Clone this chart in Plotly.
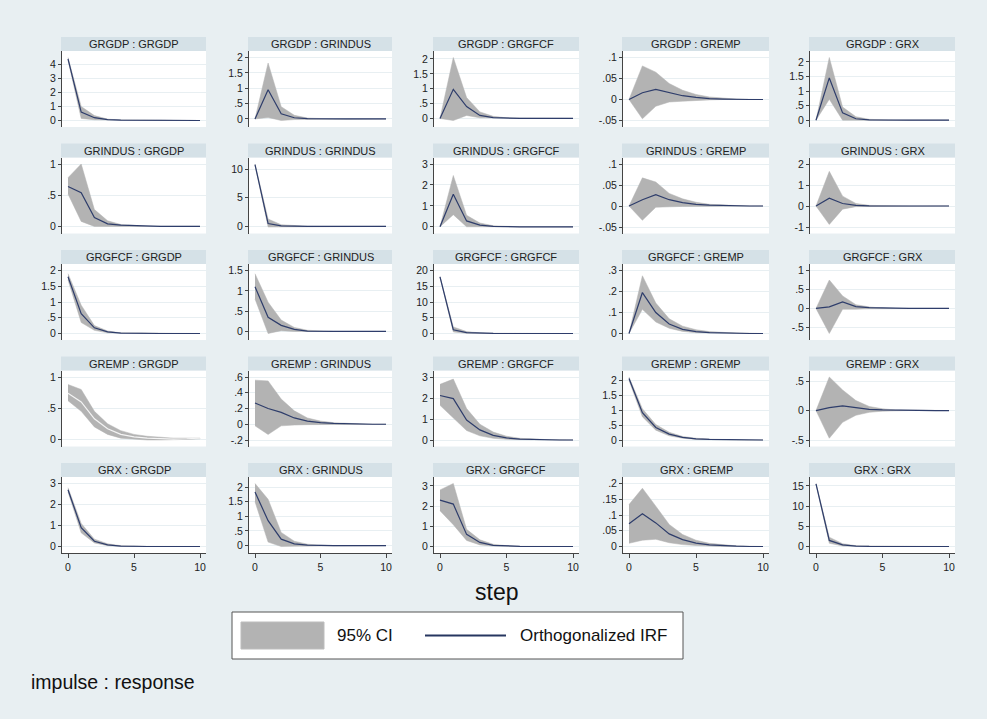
import plotly.graph_objects as go

# ---------------------------------------------------------------- data
steps = [0, 1, 2, 3, 4, 5, 6, 7, 8, 9, 10]
variables = ["GRGDP", "GRINDUS", "GRGFCF", "GREMP", "GRX"]
x_ticks = [0, 5, 10]

# impulse GRGDP
irf_gdp_gdp = [4.4, 0.6, 0.2, 0.06, 0.02, 0.01, 0, 0, 0, 0, 0]
lo_gdp_gdp = [4.3, 0.15, 0.05, 0.01, 0, 0, 0, 0, 0, 0, 0]
hi_gdp_gdp = [4.5, 1.0, 0.35, 0.1, 0.03, 0.01, 0, 0, 0, 0, 0]
irf_gdp_ind = [0, 0.95, 0.17, 0.04, 0.01, 0, 0, 0, 0, 0, 0]
lo_gdp_ind = [0, 0.05, -0.05, -0.02, 0, 0, 0, 0, 0, 0, 0]
hi_gdp_ind = [0, 1.82, 0.4, 0.12, 0.03, 0.01, 0, 0, 0, 0, 0]
irf_gdp_gfcf = [0, 0.98, 0.4, 0.1, 0.03, 0.01, 0, 0, 0, 0, 0]
lo_gdp_gfcf = [0, -0.07, 0.1, 0.02, 0, 0, 0, 0, 0, 0, 0]
hi_gdp_gfcf = [0, 2.05, 0.7, 0.22, 0.07, 0.02, 0, 0, 0, 0, 0]
irf_gdp_emp = [0, 0.016, 0.024, 0.016, 0.009, 0.005, 0.002, 0.001, 0, 0, 0]
lo_gdp_emp = [0, -0.046, -0.016, -0.006, -0.004, -0.002, -0.001, 0, 0, 0, 0]
hi_gdp_emp = [0, 0.08, 0.065, 0.038, 0.022, 0.012, 0.006, 0.003, 0.001, 0.0005, 0]
irf_gdp_x = [0, 1.45, 0.25, 0.05, 0.01, 0, 0, 0, 0, 0, 0]
lo_gdp_x = [0, 0.72, 0.0, -0.01, 0, 0, 0, 0, 0, 0, 0]
hi_gdp_x = [0, 2.15, 0.45, 0.12, 0.03, 0.01, 0, 0, 0, 0, 0]

# impulse GRINDUS
irf_ind_gdp = [0.64, 0.54, 0.14, 0.04, 0.02, 0.01, 0, 0, 0, 0, 0]
lo_ind_gdp = [0.52, 0.08, 0.0, -0.01, 0, 0, 0, 0, 0, 0, 0]
hi_ind_gdp = [0.78, 1.0, 0.27, 0.09, 0.03, 0.01, 0, 0, 0, 0, 0]
irf_ind_ind = [10.8, 0.5, 0.1, 0.02, 0, 0, 0, 0, 0, 0, 0]
lo_ind_ind = [10.7, -0.1, 0, 0, 0, 0, 0, 0, 0, 0, 0]
hi_ind_ind = [10.9, 1.3, 0.3, 0.1, 0.02, 0, 0, 0, 0, 0, 0]
irf_ind_gfcf = [0, 1.55, 0.28, 0.08, 0.02, 0, 0, 0, 0, 0, 0]
lo_ind_gfcf = [0, 0.58, 0.0, -0.01, 0, 0, 0, 0, 0, 0, 0]
hi_ind_gfcf = [0, 2.45, 0.55, 0.18, 0.05, 0.01, 0, 0, 0, 0, 0]
irf_ind_emp = [0, 0.015, 0.027, 0.015, 0.008, 0.004, 0.002, 0.001, 0, 0, 0]
lo_ind_emp = [0, -0.034, -0.003, -0.002, -0.001, 0, 0, 0, 0, 0, 0]
hi_ind_emp = [0, 0.067, 0.057, 0.03, 0.017, 0.009, 0.004, 0.002, 0.001, 0, 0]
irf_ind_x = [0, 0.37, 0.12, 0.03, 0.01, 0, 0, 0, 0, 0, 0]
lo_ind_x = [0, -0.88, -0.15, -0.03, -0.01, 0, 0, 0, 0, 0, 0]
hi_ind_x = [0, 1.65, 0.47, 0.12, 0.03, 0.01, 0, 0, 0, 0, 0]

# impulse GRGFCF
irf_gfcf_gdp = [1.8, 0.63, 0.18, 0.05, 0.01, 0, 0, 0, 0, 0, 0]
lo_gfcf_gdp = [1.7, 0.35, 0.1, 0.02, 0, 0, 0, 0, 0, 0, 0]
hi_gfcf_gdp = [1.9, 0.9, 0.25, 0.08, 0.02, 0.01, 0, 0, 0, 0, 0]
irf_gfcf_ind = [1.1, 0.35, 0.15, 0.05, 0.01, 0, 0, 0, 0, 0, 0]
lo_gfcf_ind = [0.8, -0.05, 0.02, 0.0, 0, 0, 0, 0, 0, 0, 0]
hi_gfcf_ind = [1.42, 0.72, 0.28, 0.1, 0.03, 0.01, 0, 0, 0, 0, 0]
irf_gfcf_gfcf = [18.0, 1.2, 0.3, 0.1, 0.03, 0, 0, 0, 0, 0, 0]
lo_gfcf_gfcf = [17.9, 0.5, 0.05, 0, 0, 0, 0, 0, 0, 0, 0]
hi_gfcf_gfcf = [18.1, 2.1, 0.6, 0.2, 0.05, 0, 0, 0, 0, 0, 0]
irf_gfcf_emp = [0, 0.195, 0.1, 0.045, 0.02, 0.009, 0.004, 0.002, 0.001, 0, 0]
lo_gfcf_emp = [0, 0.115, 0.055, 0.025, 0.01, 0.004, 0.002, 0.001, 0, 0, 0]
hi_gfcf_emp = [0, 0.275, 0.145, 0.07, 0.035, 0.018, 0.009, 0.004, 0.002, 0.001, 0.0005]
irf_gfcf_x = [0, 0.04, 0.17, 0.05, 0.02, 0.01, 0, 0, 0, 0, 0]
lo_gfcf_x = [0, -0.66, -0.02, -0.02, -0.01, 0, 0, 0, 0, 0, 0]
hi_gfcf_x = [0, 0.75, 0.33, 0.1, 0.04, 0.01, 0, 0, 0, 0, 0]

# impulse GREMP
irf_emp_gdp = [0.74, 0.6, 0.33, 0.17, 0.08, 0.04, 0.02, 0.01, 0.005, 0.01, 0.02]
lo_emp_gdp = [0.62, 0.45, 0.2, 0.08, 0.02, 0.0, -0.01, -0.01, -0.01, 0, 0.01]
hi_emp_gdp = [0.88, 0.8, 0.45, 0.25, 0.14, 0.08, 0.05, 0.03, 0.02, 0.02, 0.02]
irf_emp_ind = [0.27, 0.2, 0.15, 0.08, 0.04, 0.02, 0.01, 0.005, 0, 0, 0]
lo_emp_ind = [-0.02, -0.13, -0.02, -0.01, -0.005, 0, 0, 0, 0, 0, 0]
hi_emp_ind = [0.56, 0.55, 0.32, 0.17, 0.08, 0.04, 0.02, 0.01, 0.005, 0, 0]
irf_emp_gfcf = [2.12, 1.97, 0.95, 0.48, 0.22, 0.1, 0.04, 0.02, 0.01, 0, 0]
lo_emp_gfcf = [1.65, 1.05, 0.45, 0.2, 0.08, 0.03, 0.01, 0, 0, 0, 0]
hi_emp_gfcf = [2.65, 2.9, 1.5, 0.75, 0.38, 0.18, 0.08, 0.04, 0.02, 0.01, 0]
irf_emp_emp = [2.07, 0.92, 0.42, 0.2, 0.09, 0.04, 0.02, 0.01, 0, 0, 0]
lo_emp_emp = [2.0, 0.78, 0.33, 0.14, 0.06, 0.02, 0.01, 0, 0, 0, 0]
hi_emp_emp = [2.12, 1.05, 0.52, 0.26, 0.12, 0.06, 0.03, 0.015, 0.005, 0, 0]
irf_emp_x = [0, 0.05, 0.08, 0.05, 0.02, 0.01, 0.005, 0, 0, 0, 0]
lo_emp_x = [0, -0.47, -0.2, -0.08, -0.03, -0.01, 0, 0, 0, 0, 0]
hi_emp_x = [0, 0.57, 0.35, 0.17, 0.07, 0.03, 0.01, 0.005, 0, 0, 0]

# impulse GRX
irf_x_gdp = [2.7, 0.9, 0.25, 0.08, 0.02, 0, 0, 0, 0, 0, 0]
lo_x_gdp = [2.6, 0.65, 0.17, 0.04, 0.01, 0, 0, 0, 0, 0, 0]
hi_x_gdp = [2.8, 1.1, 0.35, 0.13, 0.04, 0.01, 0, 0, 0, 0, 0]
irf_x_ind = [1.83, 0.85, 0.22, 0.06, 0.02, 0, 0, 0, 0, 0, 0]
lo_x_ind = [1.5, 0.12, -0.03, -0.02, -0.005, 0, 0, 0, 0, 0, 0]
hi_x_ind = [2.12, 1.58, 0.45, 0.15, 0.05, 0.01, 0, 0, 0, 0, 0]
irf_x_gfcf = [2.3, 2.1, 0.6, 0.2, 0.06, 0.02, 0.01, 0, 0, 0, 0]
lo_x_gfcf = [1.77, 1.08, 0.3, 0.08, 0.02, 0, 0, 0, 0, 0, 0]
hi_x_gfcf = [2.8, 3.12, 0.85, 0.33, 0.11, 0.04, 0.01, 0, 0, 0, 0]
irf_x_emp = [0.072, 0.104, 0.075, 0.04, 0.022, 0.011, 0.005, 0.002, 0.001, 0, 0]
lo_x_emp = [0.01, 0.02, 0.023, 0.012, 0.006, 0.003, 0.001, 0, 0, 0, 0]
hi_x_emp = [0.133, 0.185, 0.128, 0.07, 0.038, 0.02, 0.01, 0.005, 0.002, 0.001, 0]
irf_x_x = [15.5, 1.5, 0.4, 0.1, 0.02, 0, 0, 0, 0, 0, 0]
lo_x_x = [15.4, 0.8, 0.15, 0.02, 0, 0, 0, 0, 0, 0, 0]
hi_x_x = [15.6, 2.3, 0.7, 0.2, 0.05, 0, 0, 0, 0, 0, 0]

# y tick values per panel (row = impulse, column = response)
yticks_rows = [
    [[0, 1, 2, 3, 4], [0, .5, 1, 1.5, 2], [0, .5, 1, 1.5, 2], [-.05, 0, .05, .1], [0, .5, 1, 1.5, 2]],
    [[0, .5, 1], [0, 5, 10], [0, 1, 2, 3], [-.05, 0, .05, .1], [-1, 0, 1, 2]],
    [[0, .5, 1, 1.5, 2], [0, .5, 1, 1.5], [0, 5, 10, 15, 20], [0, .1, .2, .3], [-.5, 0, .5, 1]],
    [[0, .5, 1], [-.2, 0, .2, .4, .6], [0, 1, 2, 3], [0, .5, 1, 1.5, 2], [-.5, 0, .5]],
    [[0, 1, 2, 3], [0, .5, 1, 1.5, 2], [0, 1, 2, 3], [0, .05, .1, .15, .2], [0, 5, 10, 15]],
]

panel_rows = [
    [(irf_gdp_gdp, lo_gdp_gdp, hi_gdp_gdp), (irf_gdp_ind, lo_gdp_ind, hi_gdp_ind),
     (irf_gdp_gfcf, lo_gdp_gfcf, hi_gdp_gfcf), (irf_gdp_emp, lo_gdp_emp, hi_gdp_emp),
     (irf_gdp_x, lo_gdp_x, hi_gdp_x)],
    [(irf_ind_gdp, lo_ind_gdp, hi_ind_gdp), (irf_ind_ind, lo_ind_ind, hi_ind_ind),
     (irf_ind_gfcf, lo_ind_gfcf, hi_ind_gfcf), (irf_ind_emp, lo_ind_emp, hi_ind_emp),
     (irf_ind_x, lo_ind_x, hi_ind_x)],
    [(irf_gfcf_gdp, lo_gfcf_gdp, hi_gfcf_gdp), (irf_gfcf_ind, lo_gfcf_ind, hi_gfcf_ind),
     (irf_gfcf_gfcf, lo_gfcf_gfcf, hi_gfcf_gfcf), (irf_gfcf_emp, lo_gfcf_emp, hi_gfcf_emp),
     (irf_gfcf_x, lo_gfcf_x, hi_gfcf_x)],
    [(irf_emp_gdp, lo_emp_gdp, hi_emp_gdp), (irf_emp_ind, lo_emp_ind, hi_emp_ind),
     (irf_emp_gfcf, lo_emp_gfcf, hi_emp_gfcf), (irf_emp_emp, lo_emp_emp, hi_emp_emp),
     (irf_emp_x, lo_emp_x, hi_emp_x)],
    [(irf_x_gdp, lo_x_gdp, hi_x_gdp), (irf_x_ind, lo_x_ind, hi_x_ind),
     (irf_x_gfcf, lo_x_gfcf, hi_x_gfcf), (irf_x_emp, lo_x_emp, hi_x_emp),
     (irf_x_x, lo_x_x, hi_x_x)],
]

# ---------------------------------------------------------------- style
W, H = 987, 719
FONT = "Liberation Sans, Arial, sans-serif"
BG = "#e8eff2"
STRIP = "#d5e1e7"
GRID = "#e8eff2"
BAND = "#b3b3b3"
LINE = "#2e3d6b"
AXIS = "#444444"

col_px = [(62, 206), (249, 392), (434, 579), (623, 769), (810, 955)]
row_top0, row_step, plot_h, strip_h = 51, 106.5, 76, 14


def px_x(p):
    return p / W


def px_y(p):
    return 1 - p / H


def fmt_tick(v):
    s = f"{v:g}"
    if s.startswith("0."):
        s = s[1:]
    elif s.startswith("-0."):
        s = "-" + s[2:]
    return s


fig = go.Figure()
shapes, annotations = [], []

for r in range(5):
    top = row_top0 + r * row_step
    bot = top + plot_h
    for c in range(5):
        k = r * 5 + c + 1
        xa = "x" if k == 1 else f"x{k}"
        ya = "y" if k == 1 else f"y{k}"
        irf, lo, hi = panel_rows[r][c]
        ticks = yticks_rows[r][c]

        fig.add_trace(go.Scatter(
            x=steps + steps[::-1], y=hi + lo[::-1], fill="toself",
            fillcolor=BAND, line=dict(width=0.5, color=BAND), mode="lines",
            hoverinfo="skip", showlegend=False, xaxis=xa, yaxis=ya))
        line_col = "#f4f4f4" if (r, c) == (3, 0) else LINE
        fig.add_trace(go.Scatter(
            x=steps, y=irf, mode="lines", line=dict(width=1.2, color=line_col),
            showlegend=False, xaxis=xa, yaxis=ya))

        # axis ranges: data and ticks, plus a fixed pixel margin
        ymin = min(min(lo), min(ticks))
        ymax = max(max(hi), max(ticks))
        pad = (ymax - ymin) * 6.5 / (plot_h - 13)
        x0, x1 = col_px[c]
        xpad = 10 * 6 / (x1 - x0 - 12)

        bottom_row = r == 4
        fig.layout[("xaxis" if k == 1 else f"xaxis{k}")] = dict(
            domain=[px_x(x0), px_x(x1)], anchor=ya, range=[-xpad, 10 + xpad],
            showgrid=False, zeroline=False, showline=bottom_row, linecolor=AXIS,
            linewidth=1, ticks="outside" if bottom_row else "", ticklen=4,
            tickcolor=AXIS, tickvals=x_ticks, showticklabels=bottom_row,
            tickfont=dict(family=FONT, size=10.5, color="#222"), fixedrange=True)
        fig.layout[("yaxis" if k == 1 else f"yaxis{k}")] = dict(
            domain=[px_y(bot), px_y(top)], anchor=xa, range=[ymin - pad, ymax + pad],
            showgrid=True, gridcolor=GRID, gridwidth=1, zeroline=False,
            showline=True, linecolor=AXIS, linewidth=1, ticks="outside",
            ticklen=3, tickcolor=AXIS, tickvals=ticks,
            ticktext=[fmt_tick(v) for v in ticks],
            tickfont=dict(family=FONT, size=10.5, color="#222"), fixedrange=True)

        # panel title strip
        shapes.append(dict(type="rect", xref="paper", yref="paper",
                           x0=px_x(x0 - 1), x1=px_x(x1), y0=px_y(top), y1=px_y(top - strip_h),
                           fillcolor=STRIP, line=dict(width=0), layer="below"))
        annotations.append(dict(
            text=f"{variables[r]} : {variables[c]}", xref="paper", yref="paper",
            x=px_x((x0 + x1) / 2), y=px_y(top - strip_h / 2), showarrow=False,
            xanchor="center", yanchor="middle",
            font=dict(family=FONT, size=11, color="#222")))

# x-axis title
annotations.append(dict(text="step", xref="paper", yref="paper", x=px_x(497), y=px_y(592),
                        showarrow=False, xanchor="center", yanchor="middle",
                        font=dict(family=FONT, size=23, color="#111")))

# legend box
shapes.append(dict(type="rect", xref="paper", yref="paper", x0=px_x(232), x1=px_x(683),
                   y0=px_y(659), y1=px_y(612), fillcolor="white",
                   line=dict(color="#555", width=1)))
shapes.append(dict(type="rect", xref="paper", yref="paper", x0=px_x(241), x1=px_x(324),
                   y0=px_y(649), y1=px_y(622), fillcolor=BAND,
                   line=dict(color="#bdbdbd", width=1)))
annotations.append(dict(text="95% CI", xref="paper", yref="paper", x=px_x(335), y=px_y(635.5),
                        showarrow=False, xanchor="left", yanchor="middle",
                        font=dict(family=FONT, size=17, color="#111")))
shapes.append(dict(type="line", xref="paper", yref="paper", x0=px_x(425), x1=px_x(506),
                   y0=px_y(635.5), y1=px_y(635.5), line=dict(color="#263660", width=2)))
annotations.append(dict(text="Orthogonalized IRF", xref="paper", yref="paper", x=px_x(518),
                        y=px_y(635.5), showarrow=False, xanchor="left", yanchor="middle",
                        font=dict(family=FONT, size=17, color="#111")))

annotations.append(dict(text="impulse : response", xref="paper", yref="paper", x=px_x(29),
                        y=px_y(682), showarrow=False, xanchor="left", yanchor="middle",
                        font=dict(family=FONT, size=19.5, color="#111")))

fig.update_layout(
    width=W, height=H, margin=dict(l=0, r=0, t=0, b=0),
    paper_bgcolor=BG, plot_bgcolor="white", showlegend=False,
    shapes=shapes, annotations=annotations,
)

fig.write_html("out.html")
